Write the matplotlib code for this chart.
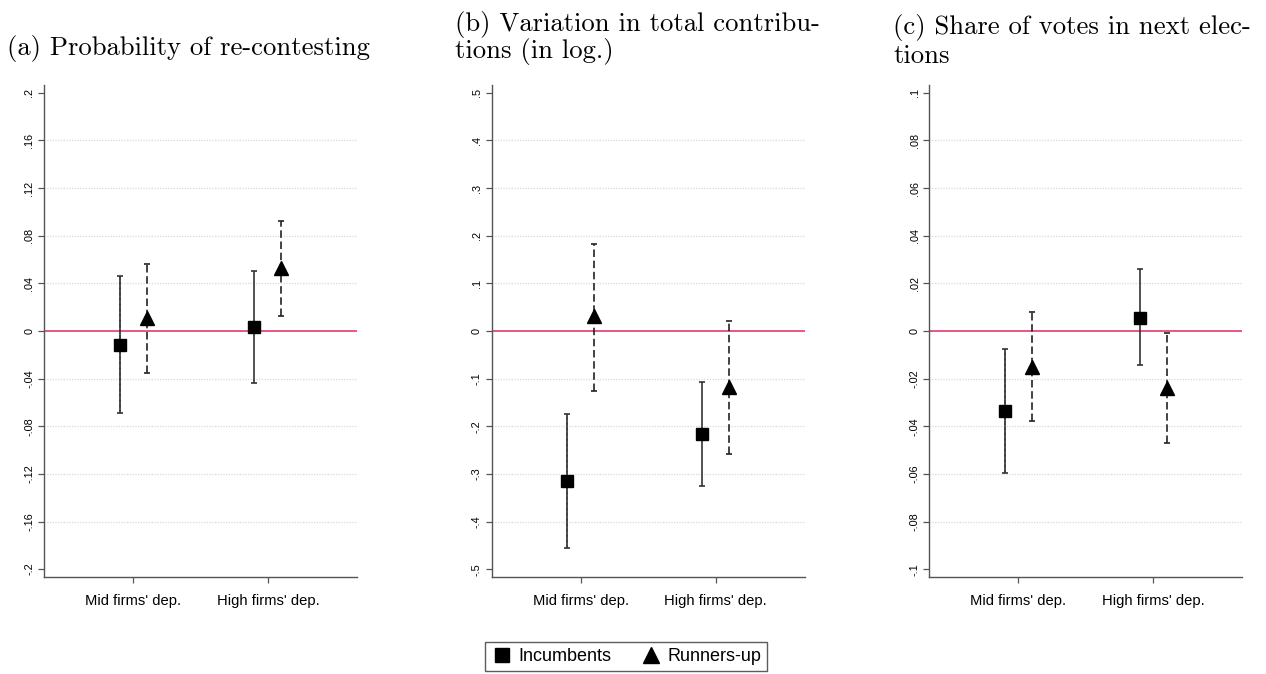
import numpy as np
import matplotlib
matplotlib.use("Agg")
import matplotlib.pyplot as plt
from matplotlib.lines import Line2D

# ── Data ───────────────────────────────────────────────────────────────────
CATEGORIES = ["Mid firms' dep.", "High firms' dep."]

TITLES = [
    ["(a) Probability of re-contesting"],
    ["(b) Variation in total contribu-", "tions (in log.)"],
    ["(c) Share of votes in next elec-", "tions"],
]

# panel (a)
A_INC_EST = [-0.012, 0.003]
A_INC_LO  = [-0.069, -0.044]
A_INC_HI  = [0.046, 0.050]
A_RUN_EST = [0.011, 0.053]
A_RUN_LO  = [-0.035, 0.013]
A_RUN_HI  = [0.056, 0.092]
A_TICKS   = [-0.2, -0.16, -0.12, -0.08, -0.04, 0, 0.04, 0.08, 0.12, 0.16, 0.2]

# panel (b)
B_INC_EST = [-0.314, -0.217]
B_INC_LO  = [-0.455, -0.325]
B_INC_HI  = [-0.175, -0.108]
B_RUN_EST = [0.031, -0.117]
B_RUN_LO  = [-0.127, -0.259]
B_RUN_HI  = [0.183, 0.022]
B_TICKS   = [-0.5, -0.4, -0.3, -0.2, -0.1, 0, 0.1, 0.2, 0.3, 0.4, 0.5]

# panel (c)
C_INC_EST = [-0.0335, 0.0056]
C_INC_LO  = [-0.0597, -0.0144]
C_INC_HI  = [-0.0074, 0.026]
C_RUN_EST = [-0.015, -0.024]
C_RUN_LO  = [-0.038, -0.047]
C_RUN_HI  = [0.008, -0.001]
C_TICKS   = [-0.1, -0.08, -0.06, -0.04, -0.02, 0, 0.02, 0.04, 0.06, 0.08, 0.1]

PANELS = [
    (A_INC_EST, A_INC_LO, A_INC_HI, A_RUN_EST, A_RUN_LO, A_RUN_HI, A_TICKS),
    (B_INC_EST, B_INC_LO, B_INC_HI, B_RUN_EST, B_RUN_LO, B_RUN_HI, B_TICKS),
    (C_INC_EST, C_INC_LO, C_INC_HI, C_RUN_EST, C_RUN_LO, C_RUN_HI, C_TICKS),
]

# ── Style ──────────────────────────────────────────────────────────────────
W, H = 1266, 674
AX_LEFT = [44, 491.7, 929.3]
AX_W    = 313
AX_TOP  = 85
AX_BOT  = 577
TITLE_X = [7, 455, 893]
TITLE_BASE = [[55], [31, 58], [34, 63]]

SPINE = "#555555"
ZERO_RED = "#e02a5c"
GRID = "#dadada"
OFFSET = 0.1

plt.rcParams["font.family"] = ["Liberation Sans", "DejaVu Sans"]


def stata_label(v):
    s = f"{round(v, 4):g}"
    return s.replace("0.", ".")


def draw_panel(ax, inc_est, inc_lo, inc_hi, run_est, run_lo, run_hi, ticks):
    x = np.arange(1, len(CATEGORIES) + 1)
    lim = ticks[-1] * 1.033

    for t in ticks[1:-1]:
        if t == 0:
            continue
        ax.axhline(t, color=GRID, lw=0.9, ls=(0, (1, 1.2)), zorder=0)
    ax.axhline(0, color=ZERO_RED, lw=1.1, zorder=1)

    inc_err = [np.subtract(inc_est, inc_lo), np.subtract(inc_hi, inc_est)]
    run_err = [np.subtract(run_est, run_lo), np.subtract(run_hi, run_est)]

    # incumbents: solid bars (Mid bar looks doubled/striped in the original)
    ax.errorbar(x - OFFSET, inc_est, yerr=inc_err, fmt="s", color="black",
                ms=8.5, ecolor="#333333", elinewidth=1.2, capsize=2.2,
                capthick=1.2, zorder=3)
    ax.vlines(x[0] - OFFSET, inc_lo[0], inc_hi[0], colors="#808080", lw=1.2,
              linestyles=(0, (2, 1.2)), zorder=2.5)

    eb2 = ax.errorbar(x + OFFSET, run_est, yerr=run_err, fmt="^", color="black",
                      ms=9.5, ecolor="#222222", elinewidth=1.2, capsize=2.2,
                      capthick=1.2, zorder=3)
    eb2[2][0].set_linestyle((0, (4.5, 2.2)))

    ax.set_xlim(0.34, 2.66)
    ax.set_ylim(-lim, lim)
    ax.set_xticks(x)
    ax.set_xticklabels(CATEGORIES, fontsize=10.6)
    ax.set_yticks(ticks)
    ax.set_yticklabels([stata_label(t) for t in ticks], fontsize=7.8,
                       rotation=90, va="center")
    ax.tick_params(axis="both", direction="out", length=4, width=0.9,
                   color=SPINE, pad=3)
    ax.tick_params(axis="x", pad=8)
    for side in ("top", "right"):
        ax.spines[side].set_visible(False)
    for side in ("left", "bottom"):
        ax.spines[side].set_color(SPINE)
        ax.spines[side].set_linewidth(1.0)


fig = plt.figure(figsize=(W / 100, H / 100), dpi=100)

for i, p in enumerate(PANELS):
    ax = fig.add_axes([AX_LEFT[i] / W, 1 - AX_BOT / H, AX_W / W,
                       (AX_BOT - AX_TOP) / H])
    draw_panel(ax, *p)
    for line, yb in zip(TITLES[i], TITLE_BASE[i]):
        fig.text(TITLE_X[i] / W, 1 - yb / H, line, fontsize=19.2,
                 family=["cmr10", "DejaVu Serif"], va="baseline", ha="left")

handles = [
    Line2D([], [], marker="s", color="black", ls="none", ms=10),
    Line2D([], [], marker="^", color="black", ls="none", ms=11),
]
leg = fig.legend(handles, ["Incumbents", "Runners-up"], loc="center",
                 bbox_to_anchor=(626 / W, 1 - 656.5 / H), ncol=2,
                 fontsize=13, frameon=True, fancybox=False,
                 handletextpad=0.3, columnspacing=1.6, handlelength=1.2,
                 borderpad=0.35)
leg.get_frame().set_edgecolor("#333333")
leg.get_frame().set_linewidth(1.0)

fig.savefig("out.png", dpi=100)
